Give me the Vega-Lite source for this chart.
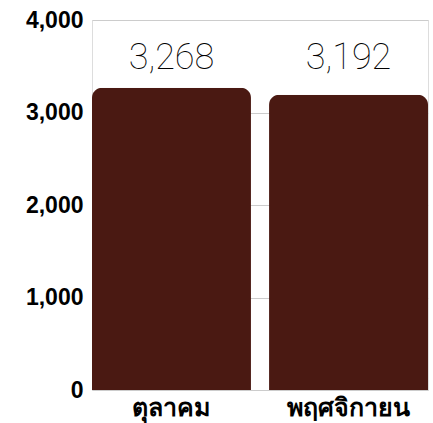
{
  "$schema": "https://vega.github.io/schema/vega-lite/v6.json",
  "width": 336,
  "height": 370,
  "autosize": {"type": "none"},
  "padding": {"left": 92, "top": 20, "right": 5, "bottom": 33},
  "background": "white",
  "data": {"values": [
    {"month": "ตุลาคม", "value": 3268},
    {"month": "พฤศจิกายน", "value": 3192}
  ]},
  "transform": [{"joinaggregate": [{"op": "max", "field": "value", "as": "maxv"}]}],
  "encoding": {
    "x": {"field": "month", "type": "nominal", "sort": null,
      "scale": {"paddingInner": 0.102, "paddingOuter": 0},
      "axis": {"title": null, "labelAngle": 0, "ticks": false, "domain": false, "labelPadding": 5,
        "labelFont": "Noto Sans", "labelFontWeight": "bold", "labelFontSize": 25, "labelColor": "#000", "grid": false}}
  },
  "layer": [
    {
      "mark": {"type": "bar", "color": "#4a1912", "cornerRadiusTopLeft": 10, "cornerRadiusTopRight": 10},
      "encoding": {
        "y": {"field": "value", "type": "quantitative",
          "scale": {"domain": [0, 4000]},
          "axis": {"title": null, "values": [0, 1000, 2000, 3000, 4000], "format": ",.0f", "ticks": false, "domain": false,
            "labelPadding": 9, "labelFont": "Liberation Sans", "labelFontWeight": "bold", "labelFontSize": 23,
            "labelColor": "#000", "gridColor": "#cccccc", "gridWidth": 1}}
      }
    },
    {
      "mark": {"type": "text", "font": "Roboto", "fontWeight": 100, "fontSize": 36, "color": "#000", "baseline": "alphabetic", "dy": -19},
      "encoding": {
        "y": {"field": "maxv", "type": "quantitative"},
        "text": {"field": "value", "type": "quantitative", "format": ",.0f"}
      }
    }
  ]
}
